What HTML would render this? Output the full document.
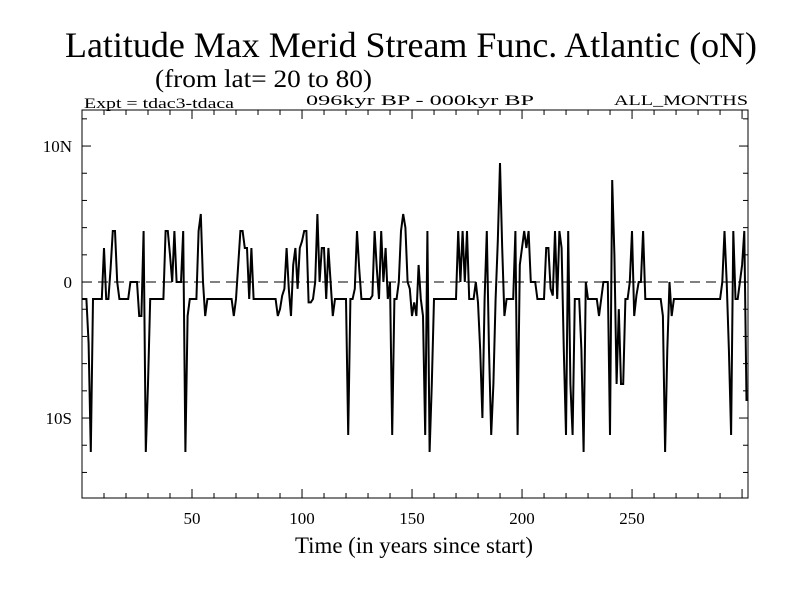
<!DOCTYPE html>
<html><head><meta charset="utf-8"><style>
body{margin:0;background:#fff;}
svg text{font-family:"Liberation Serif",serif;fill:#000;}
</style></head><body>
<svg id="chart" width="800" height="600" viewBox="0 0 800 600">
<text x="411" y="57" font-size="36" text-anchor="middle" textLength="692" lengthAdjust="spacingAndGlyphs">Latitude Max Merid Stream Func. Atlantic (oN)</text>
<text x="155" y="87" font-size="25" textLength="217" lengthAdjust="spacingAndGlyphs">(from lat= 20 to 80)</text>
<text x="84" y="108" font-size="15" textLength="150" lengthAdjust="spacingAndGlyphs">Expt = tdac3-tdaca</text>
<text x="306" y="105" font-size="15" textLength="228" lengthAdjust="spacingAndGlyphs">096kyr BP - 000kyr BP</text>
<text x="748" y="105" font-size="15" text-anchor="end" textLength="134" lengthAdjust="spacingAndGlyphs">ALL_MONTHS</text>
<rect x="82" y="110" width="666" height="388" fill="none" stroke="#000" stroke-width="1"/>
<g id="axes"></g>
<g id="series"></g>
<text x="414" y="553" font-size="23" text-anchor="middle" textLength="238" lengthAdjust="spacingAndGlyphs">Time (in years since start)</text>
</svg>
<script>
const yTickValues=[10,0,-10];
const yTickLabels=["10N","0","10S"];
const xTickValues=[50,100,150,200,250];
const values=[
-1.25,-1.25,-1.25,-4.5,-12.5,-1.25,-1.25,-1.25,-1.25,-1.25,
2.5,-1.25,-1.25,1,3.75,3.75,0,-1.25,-1.25,-1.25,
-1.25,-1.25,0,0,0,0,-2.5,-2.5,3.75,-12.5,
-7.5,-1.25,-1.25,-1.25,-1.25,-1.25,-1.25,-1.25,3.75,3.75,
2,0,3.75,0,0,0,3.75,-12.5,-2.5,-1.25,
-1.25,-1.25,-1.25,3.75,5,0,-2.5,-1.25,-1.25,-1.25,
-1.25,-1.25,-1.25,-1.25,-1.25,-1.25,-1.25,-1.25,-1.25,-2.5,
-1.25,1.25,3.75,3.75,2.5,2.5,-1.25,2.5,-1.25,-1.25,
-1.25,-1.25,-1.25,-1.25,-1.25,-1.25,-1.25,-1.25,-1.25,-2.5,
-2,-1,-0.5,2.5,-0.5,-2.5,1.25,2.5,-0.5,2.5,
3,3.75,3.75,-1.5,-1.5,-1.25,0,5,0,2.5,
2.5,-1.25,2.5,0,-2.5,-1.25,-1.25,-1.25,-1.25,-1.25,
-1.25,-11.25,-1.25,-1.25,-0.5,3.75,1,-1.25,-1.25,-1.25,
-1.25,-1.25,-1,3.75,1,-1.25,3.75,0,2.5,-1.25,
0,-11.25,-1.25,-1.25,0,3.75,5,4,0,-0.5,
-2.5,-1.5,-2.5,1.25,-1.25,-2.5,-11.25,3.75,-12.5,-7.5,
-1.25,-1.25,-1.25,-1.25,-1.25,-1.25,-1.25,-1.25,-1.25,-1.25,
-1.25,3.75,0,3.75,0,3.75,-1.25,-1.25,-1.25,0,
-1.5,-5,-10,-1.25,3.75,-5,-11.25,-7.5,-1.25,3,
8.75,2.5,-2.5,-1.25,-1.25,-1.25,-1.25,3.75,-11.25,1.25,
2.5,3.75,2.5,3.75,0,0,0,-1.25,-1.25,-1.25,
-1.25,2.5,2.5,-0.5,-1,3.75,-1.25,3.75,2.5,-5,
-11.25,3.75,-7.5,-11.25,-1.25,-1.25,-1.25,-5,-12.5,0,
-1.25,-1.25,-1.25,-1.25,-1.25,-2.5,-1.25,0,0,0,
-11.25,7.5,2,-7.5,-2,-7.5,-7.5,-1.25,-1.25,0,
3.75,-2.5,-1,0,0,3.75,-1.25,-1.25,-1.25,-1.25,
-1.25,-1.25,-1.25,-1.25,-2.5,-12.5,-5,0,-2.5,-1.25,
-1.25,-1.25,-1.25,-1.25,-1.25,-1.25,-1.25,-1.25,-1.25,-1.25,
-1.25,-1.25,-1.25,-1.25,-1.25,-1.25,-1.25,-1.25,-1.25,-1.25,
-1.25,0,3.75,0,-5,-11.25,3.75,-1.25,-1.25,0,
1.25,3.75,-8.75
];
const NS="http://www.w3.org/2000/svg";
const X0=82,X1=748,Y0=110,Y1=498;
const xMin=0,xMax=302.7,yMin=-15.88,yMax=12.65;
function xs(v){return X0+(v-xMin)/(xMax-xMin)*(X1-X0);}
function ys(v){return Y1-(v-yMin)/(yMax-yMin)*(Y1-Y0);}
function mk(tag,attrs,parent){const e=document.createElementNS(NS,tag);for(const k in attrs)e.setAttribute(k,attrs[k]);parent.appendChild(e);return e;}
const axes=document.getElementById('axes');
for(let v=-14;v<=12;v+=2){
  const major=(v%10===0);const L=major?9:5;const y=ys(v);
  let t=mk('line',{x1:X0,x2:X0+L,y1:y,y2:y,stroke:'#000'},axes);
  
  
  t=mk('line',{x1:X1-L,x2:X1,y1:y,y2:y,stroke:'#000'},axes);
  
  
}
yTickValues.forEach((v,i)=>{
  const t=mk('text',{x:72,y:ys(v)+6,'font-size':17,'text-anchor':'end'},axes);
  t.textContent=yTickLabels[i];
  
  
});
for(let v=10;v<=300;v+=10){
  const major=(v%50===0);const L=major?9:5;const x=xs(v);
  let t=mk('line',{x1:x,x2:x,y1:Y1,y2:Y1-L,stroke:'#000'},axes);
  
  
  t=mk('line',{x1:x,x2:x,y1:Y0,y2:Y0+L,stroke:'#000'},axes);
  
  
}
xTickValues.forEach(v=>{
  const t=mk('text',{x:xs(v),y:524,'font-size':17,'text-anchor':'middle'},axes);
  t.textContent=String(v);
  
  
});
const zl=mk('line',{x1:X0,x2:X1,y1:ys(0),y2:ys(0),stroke:'#000','stroke-dasharray':'10,6'},axes);


const series=document.getElementById('series');
const pts=values.map((v,i)=>xs(i).toFixed(1)+','+ys(v).toFixed(1)).join(' ');
const pl=mk('polyline',{points:pts,fill:'none',stroke:'#000','stroke-width':2,'stroke-linejoin':'miter'},series);


</script>
</body></html>
